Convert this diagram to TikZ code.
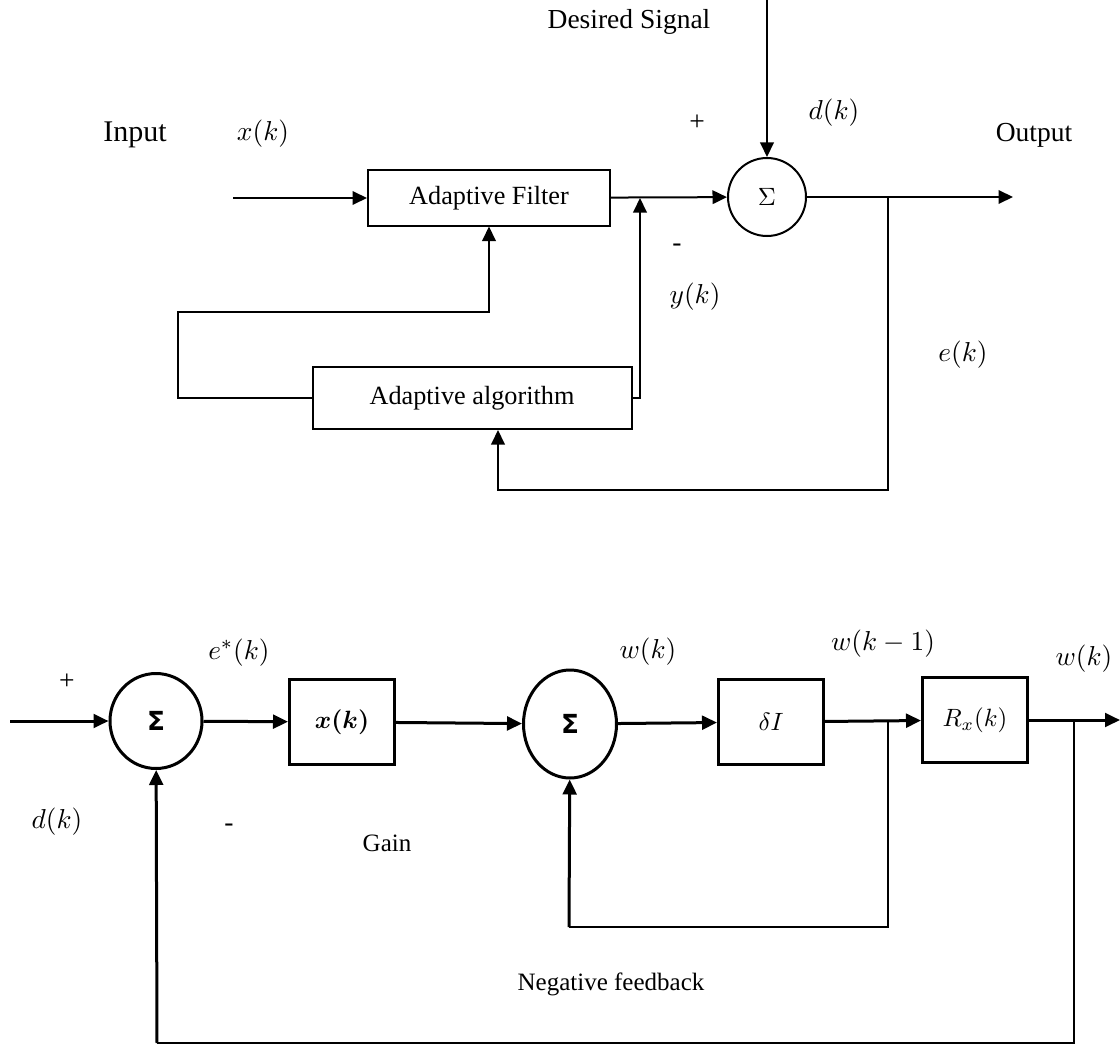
\documentclass[tikz,border=0pt]{standalone}
\usepackage{amsmath}
\usepackage{fontspec}
\setmainfont{Liberation Serif}
\newfontfamily\sumfont{DejaVu Sans}
\usetikzlibrary{arrows.meta, shapes.geometric}

\begin{document}
\begin{tikzpicture}[x=0.4pt, y=-0.4pt,
  arr/.style={line width=0.8pt, -{Triangle[length=5.8pt, width=5.4pt]}},
  barr/.style={line width=1.2pt, -{Triangle[length=6pt, width=5.5pt]}},
  fbline/.style={line width=0.6pt},
  filterbox/.style={draw, line width=0.8pt, inner sep=0pt, font=\fontsize{10.5}{12}\selectfont},
  gainbox/.style={draw, line width=1.2pt, minimum width=42pt, minimum height=34pt, inner sep=0pt},
  summer/.style={draw, ellipse, line width=1.2pt, inner sep=0pt, font=\sumfont\bfseries\fontsize{10.5}{12}\selectfont},
  lbl/.style={font=\fontsize{11}{13}\selectfont, inner sep=0pt}]
  \useasboundingbox (0,0) rectangle (1120,1046);
  % adaptive filter, top
  \node[filterbox, minimum width=96.8pt, minimum height=22pt] (filt) at (489,198) {Adaptive Filter};
  \node[filterbox, minimum width=127.6pt, minimum height=24.8pt] (alg) at (472,398) {Adaptive algorithm};
  \node[draw, circle, line width=0.8pt, minimum size=31.2pt, inner sep=0pt] (sum) at (767,197) {$\Sigma$};
  \coordinate (in) at (233,198);
  \coordinate (dtop) at (767,0);
  \coordinate (out) at (1013,197);
  \coordinate (ebr) at (888,197);
  \coordinate (ecorner) at (498,490);
  \coordinate (yj) at (640,198);
  \draw[arr] (in) -- (filt);
  \draw[arr] (filt) -- (sum);
  \draw[arr] (dtop) -- (sum);
  \draw[arr] (sum) -- (out);
  \draw[arr] (alg.east) -| (yj);
  \draw[arr] (alg.west) -| (178,312) -| (filt.south);
  \draw[arr] (ebr) |- (ecorner) -- (ecorner |- alg.south);
  % labels, top
  \node[lbl] (desired) at (629,22) {Desired Signal};
  \node[lbl, font=\fontsize{12}{14}\selectfont] (input) at (135,135) {Input};
  \node[lbl] (output) at (1034,135) {Output};
  \node[lbl] (xk) at (263,134) {$x(k)$};
  \node[lbl] (dk) at (834,113) {$d(k)$};
  \node[lbl] (yk) at (695,297) {$y(k)$};
  \node[lbl] (ek) at (963,355) {$e(k)$};
  \node[lbl] (plus) at (697,123) {+};
  \node[lbl] (minus) at (677,248) {-};
  % weight loop, bottom
  \node[summer, minimum width=36.8pt, minimum height=38pt] (sumA) at (156,721) {Σ};
  \node[gainbox] (gain) at (342,722) {$\boldsymbol{x(k)}$};
  \node[summer, minimum width=37.2pt, minimum height=43.2pt] (sumB) at (570,724) {Σ};
  \node[gainbox] (delay) at (771,722) {$\delta I$};
  \node[gainbox] (rx) at (975,720) {$R_x(k)$};
  \coordinate (bin) at (10,721);
  \coordinate (bout) at (1120,720);
  \coordinate (fb1) at (888,722);
  \coordinate (fbc1) at (569,927);
  \coordinate (fb2) at (1074,720);
  \coordinate (fbc2) at (157,1043);
  \draw[barr] (bin) -- (sumA);
  \draw[barr] (sumA) -- (gain);
  \draw[barr] (gain) -- (sumB);
  \draw[barr] (sumB) -- (delay);
  \draw[barr] (delay) -- (rx);
  \draw[barr] (rx) -- (bout);
  \draw[fbline] (fb1) |- (fbc1);
  \draw[barr] (fbc1) -- (sumB);
  \draw[fbline] (fb2) |- (fbc2);
  \draw[barr] (fbc2) -- (sumA);
  % labels, bottom
  \node[lbl] (plusB) at (67,682) {+};
  \node[lbl] (estar) at (239,653) {$e^*(k)$};
  \node[lbl] (wk) at (648,652) {$w(k)$};
  \node[lbl] (wk1) at (883,644) {$w(k-1)$};
  \node[lbl] (wkout) at (1084,659) {$w(k)$};
  \node[lbl] (dkB) at (57,822) {$d(k)$};
  \node[lbl] (minusB) at (229,828) {-};
  \node[font=\fontsize{10}{12}\selectfont] (gainlbl) at (387,843) {Gain};
  \node[font=\fontsize{10}{12}\selectfont] (neg) at (611,984) {Negative feedback};
\end{tikzpicture}
\end{document}
